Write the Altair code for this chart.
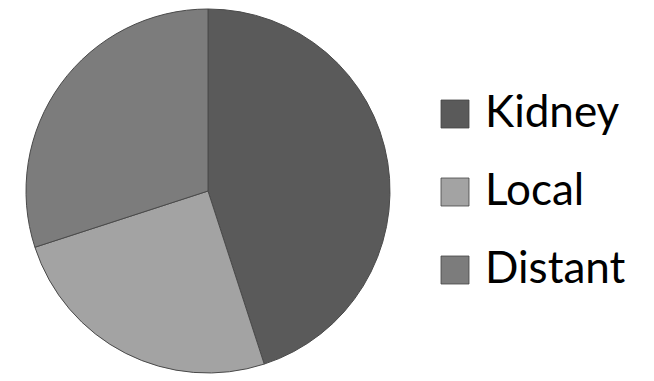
import altair as alt
import pandas as pd

categories = ["Kidney", "Local", "Distant"]
values = [45, 25, 30]
colors = ["#5a5a5a", "#a3a3a3", "#7c7c7c"]

df = pd.DataFrame({"site": categories, "value": values, "order": list(range(len(categories)))})

pie = alt.Chart(df).mark_arc(
    radius=182, stroke="#4a4a4a", strokeWidth=1
).encode(
    theta=alt.Theta("value:Q", stack=True),
    order=alt.Order("order:Q"),
    color=alt.Color(
        "site:N",
        scale=alt.Scale(domain=categories, range=colors),
        sort=categories,
        legend=alt.Legend(
            title=None,
            orient="none",
            legendX=425,
            legendY=84,
            symbolType="square",
            symbolSize=784,
            symbolStrokeColor="#444444",
            symbolStrokeWidth=0.8,
            labelFont="Lato",
            labelFontSize=44,
            labelColor="#000000",
            labelOffset=8,
            rowPadding=34,
            labelLimit=300,
        ),
    ),
    x=alt.value(200),
    y=alt.value(183),
)

chart = pie.properties(
    width=630, height=368, padding=0, autosize=alt.AutoSizeParams(type="none")
).configure_view(strokeWidth=0, strokeOpacity=0, stroke="transparent")

chart.save("out.html", embed_options={"renderer": "svg", "actions": False})
